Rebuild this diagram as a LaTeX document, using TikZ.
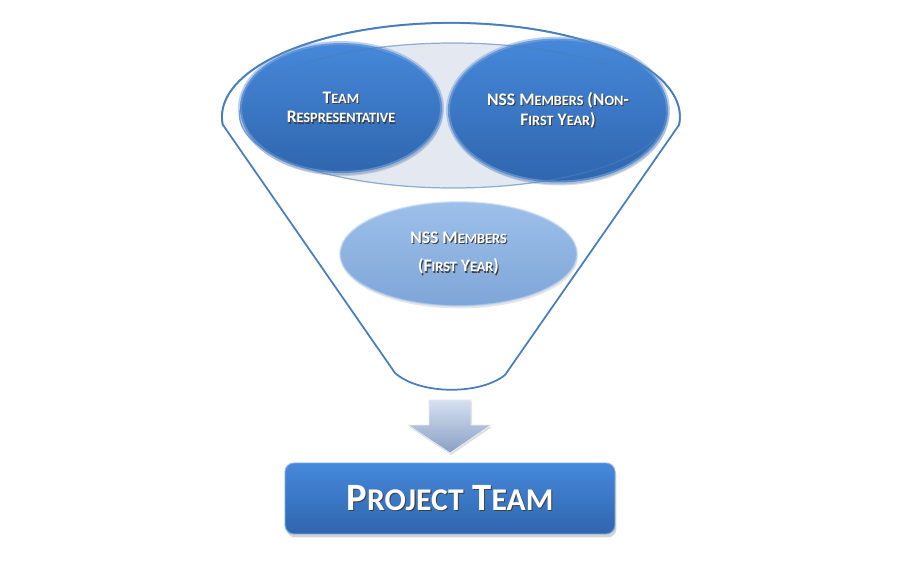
\documentclass[tikz,border=0pt]{standalone}
\usepackage{fontspec}
\setmainfont{Carlito}
\usetikzlibrary{shapes.geometric}
\usetikzlibrary{shadows}

\definecolor{funnelline}{HTML}{4A7EBB}
\definecolor{innerfill}{HTML}{E3E8F1}
\definecolor{ovaltop}{HTML}{4688DA}
\definecolor{ovalbot}{HTML}{2F66AE}
\definecolor{ovalrim}{HTML}{7FA8DE}
\definecolor{lighttop}{HTML}{9DC0EA}
\definecolor{lightbot}{HTML}{7EA6D8}
\definecolor{arrowtop}{HTML}{D6E0F0}
\definecolor{arrowbot}{HTML}{889FC4}

% fake small capitals
\newcommand{\smc}[1]{{\fontsize{8.1}{9}\selectfont #1}}
\newcommand{\bigsmc}[1]{{\fontsize{18}{20}\selectfont #1}}
% white text with a dark shadow
\newcommand{\shd}[1]{\leavevmode\rlap{\raisebox{-0.6pt}{\kern0.6pt\textcolor{black!75}{#1}}}#1}

\begin{document}
\begin{tikzpicture}[x=0.02cm, y=0.02cm,
  oval/.style={ellipse, inner sep=0pt, text=white, align=center,
    font=\fontsize{10}{11.2}\selectfont\bfseries},
  darkoval/.style={oval, top color=ovaltop, bottom color=ovalbot,
    draw=ovalrim, line width=2.2pt, draw opacity=0.55,
    drop shadow={opacity=0.3, shadow xshift=0.02cm, shadow yshift=-0.06cm}},
  lightoval/.style={oval, top color=lighttop, bottom color=lightbot,
    draw=lighttop!70!white, line width=1pt, draw opacity=0.6,
    drop shadow={opacity=0.2, shadow xshift=0.02cm, shadow yshift=-0.05cm}},
  teambox/.style={rectangle, rounded corners=0.18cm, inner sep=0pt,
    minimum width=6.6cm, minimum height=1.42cm, text=white,
    top color=ovaltop, bottom color=ovalbot, draw=ovalrim, line width=0.8pt,
    draw opacity=0.6,
    drop shadow={opacity=0.35, shadow xshift=0.03cm, shadow yshift=-0.07cm},
    font=\fontsize{22}{24}\selectfont\bfseries}
]
\useasboundingbox (0,0) rectangle (902,565);

% funnel
\draw[funnelline, line width=1pt] (223,440) -- (395,192)
  .. controls (420,170) and (480,170) .. (505,190) -- (679,440)
  arc[start angle=-5, end angle=185, x radius=229, y radius=94] -- cycle;
\fill[innerfill] (453,449.5) ellipse[x radius=213.5, y radius=72.5];

% groups
\node[darkoval, minimum width=4.04cm, minimum height=2.6cm] (teamrep) at (341,457)
  {\shd{T\smc{EAM}}\\\shd{R\smc{ESPRESENTATIVE}}};
\node[darkoval, minimum width=4.4cm, minimum height=2.88cm] (nonfirst) at (558,454.5)
  {\shd{NSS M\smc{EMBERS} (N\smc{ON}-}\\\shd{F\smc{IRST} Y\smc{EAR})}};
\node[lightoval, minimum width=4.74cm, minimum height=2.08cm,
  font=\fontsize{10}{16}\selectfont\bfseries] (firstyear) at (458.5,311)
  {\shd{NSS M\smc{EMBERS}}\\\shd{(F\smc{IRST} Y\smc{EAR})}};

% outlines over the groups
\draw[funnelline, line width=0.7pt, opacity=0.6] (453,449.5) ellipse[x radius=213.5, y radius=72.5];
\draw[funnelline, line width=1pt, opacity=0.7]
  (451,448) ++(-5:229 and 94) arc[start angle=-5, end angle=185, x radius=229, y radius=94];

% arrow
\shade[top color=arrowtop, bottom color=arrowbot, draw=white!80!arrowbot, line width=0.4pt,
  drop shadow={opacity=0.25, shadow xshift=0.02cm, shadow yshift=-0.04cm}]
  (429,165) -- (471,165) -- (471,140) -- (491,140) -- (450,112)
  -- (408,140) -- (429,140) -- cycle;

% result
\node[teambox] (projteam) at (450,66.5) {\shd{P\bigsmc{ROJECT} T\bigsmc{EAM}}};
\end{tikzpicture}
\end{document}
